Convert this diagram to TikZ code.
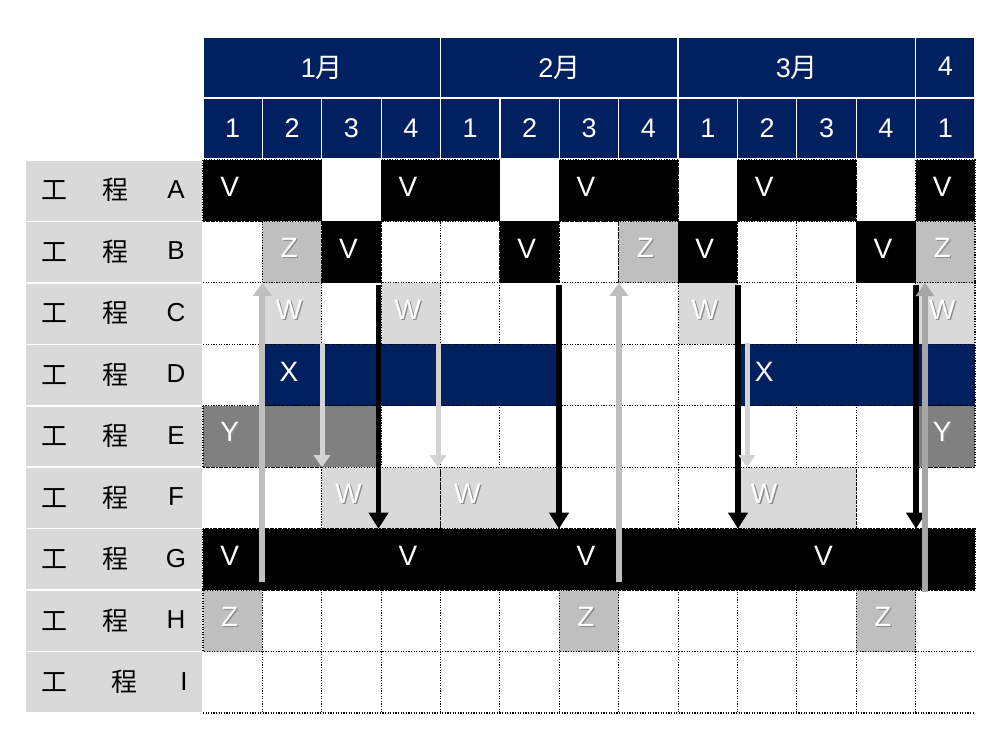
\documentclass[tikz,border=0pt]{standalone}
\usepackage{fontspec}
\setmainfont{Liberation Sans}
\newfontfamily\jp{Noto Sans CJK JP}
\usetikzlibrary{arrows.meta}
\definecolor{navy}{HTML}{002060}
\definecolor{zgray}{HTML}{BFBFBF}
\definecolor{wgray}{HTML}{D9D9D9}
\definecolor{ygray}{HTML}{808080}
\definecolor{lblgray}{HTML}{D9D9D9}
\definecolor{upgray}{HTML}{BFBFBF}
\definecolor{upgrayB}{HTML}{A6A6A6}
\definecolor{dngray}{HTML}{D3D3D3}
\newcommand\CW{59.385}
\newcommand\RH{61.444}
% white letter with a soft drop shadow (used on the grey cells)
\newcommand\sh[1]{\makebox[0pt][l]{\kern1.3pt\raisebox{-1.3pt}{\color{black!45}#1}}#1}
\newcommand\nosh[1]{#1}
\newcommand\lbltxt[3]{\makebox[178pt][l]{\hspace*{29pt}\makebox[0pt]{\jp 工}\hspace*{#1pt}\makebox[0pt]{\jp 程}\hspace*{#2pt}\makebox[0pt]{\raisebox{1.5pt}{#3}}}}
% #1 first col, #2 last col, #3 row, #4 fill, #5 node name, #6 letter, #7 shadow macro
\newcommand\gbar[7]{%
  \path[fill=#4, gridline] ({203+\CW*(#1-1)},{160+\RH*(#3-1)}) rectangle ({203+\CW*#2},{160+\RH*#3});
  \node[celltxt] (#5) at ({203+\CW*(#1-0.5)},{160+\RH*(#3-0.5)}) {#7{#6}};
}
\begin{document}
\begin{tikzpicture}[x=1pt,y=-1pt,
  gridline/.style={draw=black, line width=1.1pt, dash pattern=on 1.1pt off 1.5pt},
  hdr/.style={fill=navy, draw=white, line width=1.2pt, text=white, minimum height=61pt, inner sep=0pt, font=\fontsize{27}{30}\selectfont},
  lblcell/.style={fill=lblgray, draw=white, line width=1.6pt, minimum width=178pt, minimum height=61.44pt, inner sep=0pt, font=\fontsize{26}{30}\selectfont},
  celltxt/.style={text=white, font=\fontsize{28}{32}\selectfont, inner sep=0pt, xshift=-3pt, yshift=3.5pt},
  uparrow/.style={draw=upgray, line width=6pt, -{Triangle[width=18pt,length=13pt]}},
  uparrowB/.style={draw=upgrayB, line width=6pt, -{Triangle[width=18pt,length=13pt]}},
  dnarrow/.style={draw=dngray, line width=5pt, -{Triangle[width=16pt,length=12pt]}},
  blkarrow/.style={draw=black, line width=5.5pt, -{Triangle[width=19pt,length=16pt]}}]
\useasboundingbox (0,0) rectangle (1000,750);
\fill[white] (0,0) rectangle (1000,750);

% header
\node[hdr, minimum width={4*\CW pt}] (m1) at ({203+2*\CW},67.5) {\raisebox{2pt}{1{\jp 月}}};
\node[hdr, minimum width={4*\CW pt}] (m2) at ({203+6*\CW},67.5) {\raisebox{2pt}{2{\jp 月}}};
\node[hdr, minimum width={4*\CW pt}] (m3) at ({203+10*\CW},67.5) {\raisebox{2pt}{3{\jp 月}}};
\node[hdr, minimum width={\CW pt}] (m4) at ({203+12.5*\CW},67.5) {\raisebox{2pt}{4}};
\foreach \t [count=\i] in {1,2,3,4,1,2,3,4,1,2,3,4,1}
  \node[hdr, minimum width={\CW pt}] (w\i) at ({203+\CW*(\i-0.5)},128.5) {\raisebox{1pt}{\t}};

% row labels
\foreach \L [count=\i] in {A,B,C,D,E,F,G,H}
  \node[lblcell] (l\L) at (114,{160+\RH*(\i-0.5)}) {\raisebox{3pt}{\lbltxt{62}{60}{\L}}};
\node[lblcell] (lI) at (114,{160+\RH*8.5}) {\raisebox{3pt}{\lbltxt{71}{59}{I}}};

% dotted grid
\foreach \r in {1,...,9}
  \draw[gridline] (203,{160+\RH*\r}) -- (975,{160+\RH*\r});
\foreach \c in {1,...,12}
  \draw[gridline] ({203+\CW*\c},160) -- ({203+\CW*\c},713);

% row A
\gbar{1}{2}{1}{black}{a1}{V}{\nosh}
\gbar{4}{5}{1}{black}{a2}{V}{\nosh}
\gbar{7}{8}{1}{black}{a3}{V}{\nosh}
\gbar{10}{11}{1}{black}{a4}{V}{\nosh}
\gbar{13}{13}{1}{black}{a5}{V}{\nosh}
% row B
\gbar{2}{2}{2}{zgray}{b1}{Z}{\sh}
\gbar{3}{3}{2}{black}{b2}{V}{\nosh}
\gbar{6}{6}{2}{black}{b3}{V}{\nosh}
\gbar{8}{8}{2}{zgray}{b4}{Z}{\sh}
\gbar{9}{9}{2}{black}{b5}{V}{\nosh}
\gbar{12}{12}{2}{black}{b6}{V}{\nosh}
\gbar{13}{13}{2}{zgray}{b7}{Z}{\sh}
% row C
\gbar{2}{2}{3}{wgray}{c1}{W}{\sh}
\gbar{4}{4}{3}{wgray}{c2}{W}{\sh}
\gbar{9}{9}{3}{wgray}{c3}{W}{\sh}
\gbar{13}{13}{3}{wgray}{c4}{W}{\sh}
% row D
\gbar{2}{6}{4}{navy}{d1}{X}{\nosh}
\gbar{10}{13}{4}{navy}{d2}{X}{\nosh}
% row E
\gbar{1}{3}{5}{ygray}{e1}{Y}{\sh}
\gbar{13}{13}{5}{ygray}{e2}{Y}{\sh}
% row F
\gbar{3}{4}{6}{wgray}{f1}{W}{\sh}
\gbar{5}{6}{6}{wgray}{f2}{W}{\sh}
\gbar{10}{11}{6}{wgray}{f3}{W}{\sh}
% row G
\gbar{1}{13}{7}{black}{g1}{V}{\nosh}
\node[celltxt] (g2) at ({203+\CW*3.5},{160+\RH*6.5}) {V};
\node[celltxt] (g3) at ({203+\CW*6.5},{160+\RH*6.5}) {V};
\node[celltxt] (g4) at ({203+\CW*10.5},{160+\RH*6.5}) {V};
% row H
\gbar{1}{1}{8}{zgray}{h1}{Z}{\sh}
\gbar{7}{7}{8}{zgray}{h2}{Z}{\sh}
\gbar{12}{12}{8}{zgray}{h3}{Z}{\sh}

% arrows
\coordinate (u1s) at (262.4,582);  \coordinate (u1e) at (262.4,282.9);
\coordinate (d1s) at (322,343);    \coordinate (d1e) at (322,467.2);
\coordinate (k1s) at (378.5,285);  \coordinate (k1e) at (378.5,528.7);
\coordinate (d2s) at (438,343);    \coordinate (d2e) at (438,467.2);
\coordinate (k2s) at (559,285);    \coordinate (k2e) at (559,528.7);
\coordinate (u2s) at (619,582);    \coordinate (u2e) at (619,282.9);
\coordinate (k3s) at (738,285);    \coordinate (k3e) at (738,528.7);
\coordinate (d3s) at (747,343);    \coordinate (d3e) at (747,467.2);
\coordinate (k4s) at (916,285);    \coordinate (k4e) at (916,528.7);
\coordinate (u3s) at (925,592);    \coordinate (u3e) at (925,283);

\draw[uparrow] (u1s) -- (u1e);
\draw[dnarrow] (d1s) -- (d1e);
\draw[blkarrow] (k1s) -- (k1e);
\draw[dnarrow] (d2s) -- (d2e);
\draw[blkarrow] (k2s) -- (k2e);
\draw[uparrow] (u2s) -- (u2e);
\draw[blkarrow] (k3s) -- (k3e);
\draw[dnarrow] (d3s) -- (d3e);
\draw[blkarrow] (k4s) -- (k4e);
\draw[uparrowB] (u3s) -- (u3e);
\end{tikzpicture}
\end{document}
